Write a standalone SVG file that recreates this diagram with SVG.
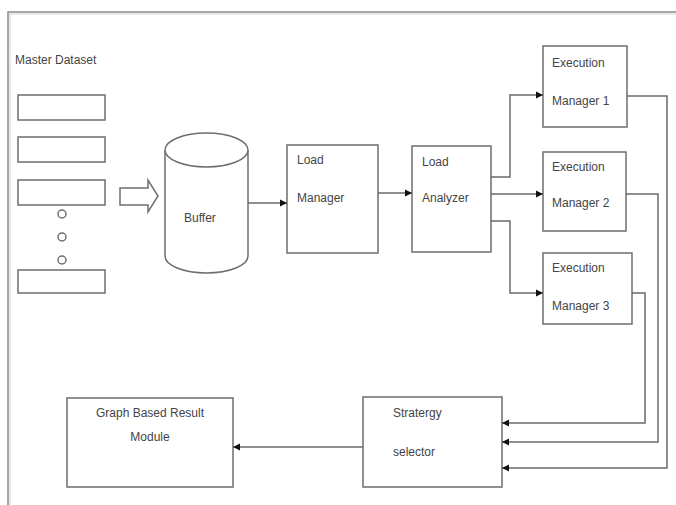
<svg xmlns="http://www.w3.org/2000/svg" width="676" height="505" viewBox="0 0 676 505">
<style>
.box{fill:#fff;stroke:#6e6e6e;stroke-width:1.5}
.ln{fill:none;stroke:#6a6a6a;stroke-width:1.5}
.t{font-family:"Liberation Sans",Arial,sans-serif;font-size:12px;fill:#444}
</style>
<defs>
<marker id="ah" markerWidth="8" markerHeight="8" refX="7" refY="4" orient="auto" markerUnits="userSpaceOnUse">
<path d="M0,0.5 L7,4 L0,7.5 Z" fill="#111"/>
</marker>
</defs>
<rect width="676" height="505" fill="#fff"/>
<g id="frame">
<path d="M8,505 V12 H676" fill="none" stroke="#8a8a8a" stroke-width="1.5"/>
<path d="M10,505 V14 H676" fill="none" stroke="#e2e2e2" stroke-width="1.5"/>
</g>
<g id="master-dataset">
<text class="t" x="15" y="64">Master Dataset</text>
<rect class="box" x="18" y="95" width="87" height="25"/>
<rect class="box" x="18" y="137" width="87" height="25"/>
<rect class="box" x="18" y="180" width="87" height="25"/>
<circle class="box" cx="62" cy="214" r="4"/>
<circle class="box" cx="62" cy="237" r="4"/>
<circle class="box" cx="62" cy="260" r="4"/>
<rect class="box" x="18" y="270" width="87" height="23"/>
</g>
<g id="block-arrow">
<path class="box" d="M120,188 H148 V180 L158,196 L148,212 V205 H120 Z"/>
</g>
<g id="buffer">
<path class="box" d="M165,150 V256 A41.5,17 0 0 0 248,256 V150"/>
<ellipse class="box" cx="206.5" cy="150" rx="41.5" ry="17"/>
<text class="t" x="184" y="222">Buffer</text>
</g>
<g id="load-manager">
<rect class="box" x="287" y="145" width="91" height="108"/>
<text class="t" x="297" y="164">Load</text>
<text class="t" x="297" y="202">Manager</text>
</g>
<g id="load-analyzer">
<rect class="box" x="412" y="146" width="79" height="106"/>
<text class="t" x="422" y="166">Load</text>
<text class="t" x="422" y="202">Analyzer</text>
</g>
<g id="exec-manager-1">
<rect class="box" x="543" y="46" width="84" height="81"/>
<text class="t" x="552" y="67">Execution</text>
<text class="t" x="552" y="105">Manager 1</text>
</g>
<g id="exec-manager-2">
<rect class="box" x="543" y="152" width="83" height="79"/>
<text class="t" x="552" y="171">Execution</text>
<text class="t" x="552" y="207">Manager 2</text>
</g>
<g id="exec-manager-3">
<rect class="box" x="543" y="253" width="89" height="71"/>
<text class="t" x="552" y="272">Execution</text>
<text class="t" x="552" y="310">Manager 3</text>
</g>
<g id="strategy-selector">
<rect class="box" x="363" y="397" width="139" height="90"/>
<text class="t" x="393" y="417">Stratergy</text>
<text class="t" x="393" y="456">selector</text>
</g>
<g id="graph-result-module">
<rect class="box" x="67" y="398" width="166" height="89"/>
<text class="t" x="150" y="417" text-anchor="middle">Graph Based Result</text>
<text class="t" x="150" y="441" text-anchor="middle">Module</text>
</g>
<g id="connectors">
<path class="ln" d="M248,203 H287" marker-end="url(#ah)"/>
<path class="ln" d="M378,193 H412" marker-end="url(#ah)"/>
<path class="ln" d="M491,177 H510 V95 H543" marker-end="url(#ah)"/>
<path class="ln" d="M491,194 H543" marker-end="url(#ah)"/>
<path class="ln" d="M491,221 H510 V293 H543" marker-end="url(#ah)"/>
<path class="ln" d="M632,293 H645 V423 H502" marker-end="url(#ah)"/>
<path class="ln" d="M626,194 H658 V442 H502" marker-end="url(#ah)"/>
<path class="ln" d="M627,96 H667 V468 H502" marker-end="url(#ah)"/>
<path class="ln" d="M363,447 H233" marker-end="url(#ah)"/>
</g>
</svg>
